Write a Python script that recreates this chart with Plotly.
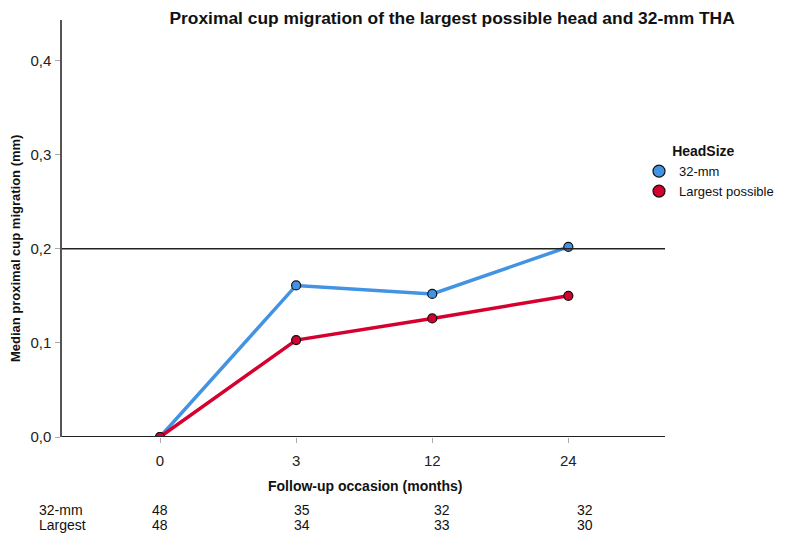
import plotly.graph_objects as go

months = ["0", "3", "12", "24"]
series_names = ["32-mm", "Largest possible"]
median_32mm = [0.0, 0.161, 0.152, 0.202]
median_largest = [0.0, 0.103, 0.126, 0.150]
n_32mm = [48, 35, 32, 32]
n_largest = [48, 34, 33, 30]
table_row_labels = ["32-mm", "Largest"]
reference_value = 0.2

colors = ["#4393E4", "#D6002E"]
font_family = "Liberation Sans, Arial, sans-serif"
W, H = 786, 527  # page body has an 8px margin
ML, MR, MT, MB = 54, 129, 12, 98
PW, PH = W - ML - MR, H - MT - MB

fig = go.Figure()
for name, vals, col in zip(series_names, [median_32mm, median_largest], colors):
    fig.add_trace(go.Scatter(
        x=months, y=vals, mode="lines+markers", name=name, showlegend=False,
        line=dict(color=col, width=3.5),
        marker=dict(size=9, color=col, line=dict(color="#111111", width=1.2)),
    ))
for name, col in zip(series_names, colors):
    fig.add_trace(go.Scatter(
        x=[None], y=[None], mode="markers", name=name,
        marker=dict(size=12, color=col, line=dict(color="#111111", width=1.2)),
    ))

fig.add_shape(type="line", xref="paper", x0=0, x1=1, yref="y",
              y0=reference_value, y1=reference_value,
              line=dict(color="#222222", width=1.6))
fig.add_shape(type="line", xref="paper", x0=0, x1=1, yref="y", y0=0, y1=0,
              line=dict(color="#222222", width=2.2))

annotations = []
annotations.append(dict(text="<b>Median proximal cup migration (mm)</b>", textangle=-90,
                        xref="paper", yref="paper", x=-0.077, y=0.452,
                        xanchor="center", yanchor="middle", showarrow=False,
                        font=dict(size=13, color="#111111")))
annotations.append(dict(text="<b>Follow-up occasion (months)</b>",
                        xref="paper", yref="paper", x=0.502, y=-0.1175,
                        xanchor="center", yanchor="middle", showarrow=False,
                        font=dict(size=14, color="#111111")))
row_y = [-0.175, -0.211]
shifts = [0, 6, 10, 17]
for label, counts, yy in zip(table_row_labels, [n_32mm, n_largest], row_y):
    annotations.append(dict(text=label, xref="paper", yref="paper", x=-0.0415, y=yy,
                            xanchor="left", yanchor="middle", showarrow=False,
                            font=dict(size=14, color="#111111")))
    for i, (c, s) in enumerate(zip(counts, shifts)):
        annotations.append(dict(text=str(c), xref="x", yref="paper", x=i, y=yy,
                                xshift=s, xanchor="center", yanchor="middle",
                                showarrow=False, font=dict(size=14, color="#111111")))

fig.update_layout(
    width=W, height=H,
    margin=dict(l=ML, r=MR, t=MT, b=MB),
    paper_bgcolor="white", plot_bgcolor="white",
    separators=",.",
    font=dict(family=font_family, size=14, color="#222222"),
    title=dict(text="<b>Proximal cup migration of the largest possible head and 32-mm THA</b>",
               x=0.565, xanchor="center", y=1 - 9.5 / H, yanchor="middle",
               font=dict(size=17.4, color="#111111")),
    xaxis=dict(type="category", range=[-0.72, 3.71], showgrid=False, zeroline=False,
               showline=False, ticks="outside", ticklen=5, tickcolor="#AAAAAA",
               ticklabelstandoff=5, tickfont=dict(size=15, color="#222222")),
    yaxis=dict(range=[0, 0.443], tickvals=[0, 0.1, 0.2, 0.3, 0.4], tickformat=".1f",
               showgrid=False, zeroline=False, showline=True, linecolor="#555555",
               linewidth=1.5, ticks="outside", ticklen=5, tickcolor="#AAAAAA",
               ticklabelstandoff=1, tickfont=dict(size=15, color="#222222")),
    legend=dict(title=dict(text="&nbsp;" * 8 + "<b>HeadSize</b>",
                           font=dict(size=14, color="#111111")),
                xref="paper", yref="paper",
                x=(631 - ML) / PW, xanchor="left", y=(H - MB - 130) / PH, yanchor="top",
                font=dict(size=13, color="#111111"), itemwidth=30,
                tracegroupgap=0, bgcolor="rgba(0,0,0,0)"),
    annotations=annotations,
)

fig.write_html("out.html")
